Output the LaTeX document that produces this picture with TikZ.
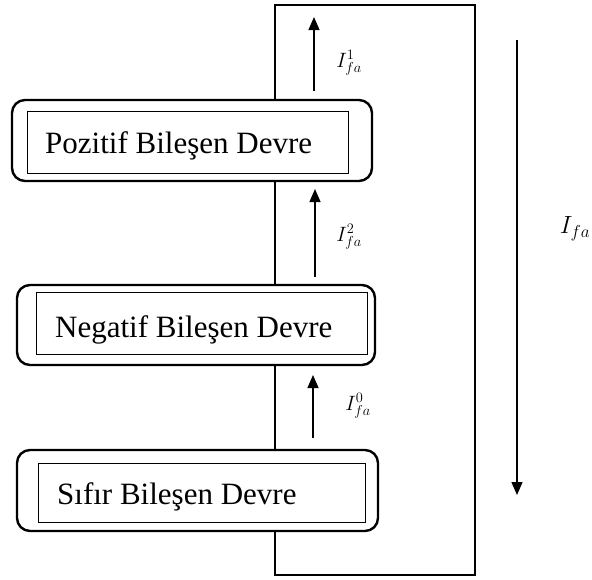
\documentclass[tikz,border=0pt]{standalone}
\usepackage{fontspec}
\setmainfont{Liberation Serif}
\usetikzlibrary{arrows.meta}
\begin{document}
\begin{tikzpicture}[x=1pt,y=-1pt,
  outerbox/.style={draw,line width=2.4pt,rounded corners=13pt,minimum width=#1,inner sep=0pt},
  innerbox/.style={draw,line width=0.9pt,minimum width=#1,inner sep=0pt},
  lbl/.style={anchor=base west,inner sep=0pt,font=\fontsize{31}{36}\selectfont},
  wire/.style={line width=1.3pt},
  flow/.style={line width=1.3pt,-{Triangle[length=13pt,width=11pt]}},
  cur/.style={inner sep=0pt,font=\fontsize{21}{25}\selectfont}]
\useasboundingbox (0,0) rectangle (592,579);

% component circuits
\node[outerbox=360pt,minimum height=81pt] (pos) at (192,140.5) {};
\node[innerbox=321pt,minimum height=62pt] (posi) at (187.5,142) {};
\node[lbl] (post) at (45,153) {Pozitif Bileşen Devre};

\node[outerbox=358pt,minimum height=80pt] (neg) at (196,325) {};
\node[innerbox=331pt,minimum height=62pt] (negi) at (201.5,323) {};
\node[lbl] (negt) at (55,337) {Negatif Bileşen Devre};

\node[outerbox=361pt,minimum height=81pt] (sif) at (197.5,490.5) {};
\node[innerbox=327pt,minimum height=59pt] (sifi) at (201.5,492.5) {};
\node[lbl] (sift) at (57,504) {Sıfır Bileşen Devre};

% series connection and return loop
\coordinate (tl) at (275,5);
\coordinate (tr) at (475,5);
\coordinate (br) at (475,575);
\coordinate (bl) at (275,575);
\draw[wire] (pos.north -| tl) -- (tl) -- (tr) -- (br) -- (bl) -- (sif.south -| bl);
\draw[wire] (pos.south -| tl) -- (neg.north -| tl);
\draw[wire] (neg.south -| tl) -- (sif.north -| tl);

% sequence currents
\coordinate (a1s) at (314,91);  \coordinate (a1e) at (314,17);
\coordinate (a2s) at (315,277); \coordinate (a2e) at (315,189);
\coordinate (a3s) at (313,438); \coordinate (a3e) at (313,375);
\coordinate (a4s) at (517,40);  \coordinate (a4e) at (517,495);
\draw[flow] (a1s) -- (a1e);
\draw[flow] (a2s) -- (a2e);
\draw[flow] (a3s) -- (a3e);
\draw[flow] (a4s) -- (a4e);

\node[cur] (i1) at (349,63) {$I_{fa}^{1}$};
\node[cur] (i2) at (349,237) {$I_{fa}^{2}$};
\node[cur] (i0) at (358,406) {$I_{fa}^{0}$};
\node[cur,font=\fontsize{24}{28}\selectfont] (if) at (575,229) {$I_{fa}$};
\end{tikzpicture}
\end{document}
